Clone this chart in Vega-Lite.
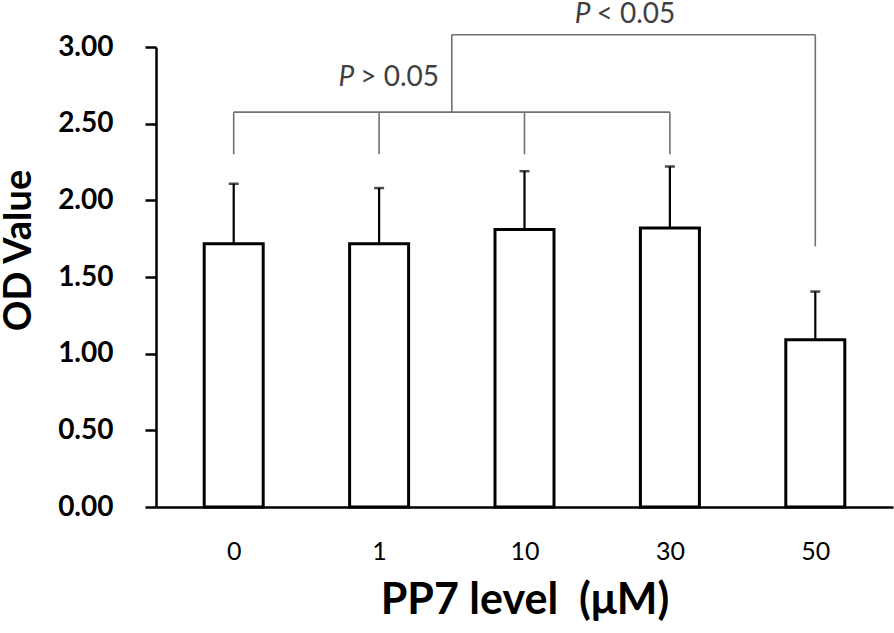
{
  "$schema": "https://vega.github.io/schema/vega-lite/v6.json",
  "width": 737,
  "height": 460,
  "padding": {"left": 0, "top": 0, "right": 4, "bottom": 2},
  "background": "white",
  "config": {"view": {"stroke": null}, "font": "Lato"},
  "datasets": {
    "bars": [
      {"pos": 0, "dose": "0", "mean": 1.717, "upper": 2.108},
      {"pos": 1, "dose": "1", "mean": 1.717, "upper": 2.08},
      {"pos": 2, "dose": "10", "mean": 1.81, "upper": 2.19},
      {"pos": 3, "dose": "30", "mean": 1.82, "upper": 2.22},
      {"pos": 4, "dose": "50", "mean": 1.09, "upper": 1.405}
    ],
    "brackets": [
      {"x": 0, "x2": 3, "y": 2.575, "y2": 2.575},
      {"x": 0, "x2": 0, "y": 2.3, "y2": 2.575},
      {"x": 1, "x2": 1, "y": 2.3, "y2": 2.575},
      {"x": 2, "x2": 2, "y": 2.3, "y2": 2.575},
      {"x": 3, "x2": 3, "y": 2.3, "y2": 2.575},
      {"x": 1.5, "x2": 1.5, "y": 2.575, "y2": 3.08},
      {"x": 1.5, "x2": 4, "y": 3.08, "y2": 3.08},
      {"x": 4, "x2": 4, "y": 1.7, "y2": 3.08}
    ],
    "labels": [
      {"x": 0.85, "y": 2.8, "p": "P", "rest": "> 0.05"},
      {"x": 2.475, "y": 3.21, "p": "P", "rest": "< 0.05"}
    ]
  },
  "layer": [
    {
      "data": {"name": "brackets"},
      "mark": {"type": "rule", "color": "#707070", "strokeWidth": 1.6, "clip": false},
      "encoding": {
        "x": {"field": "x", "type": "quantitative", "scale": {"domain": [-0.5, 4.5]}},
        "x2": {"field": "x2"},
        "y": {"field": "y", "type": "quantitative"},
        "y2": {"field": "y2"}
      }
    },
    {
      "data": {"name": "bars"},
      "mark": {"type": "rule", "color": "black", "strokeWidth": 2.2},
      "encoding": {
        "x": {"field": "pos", "type": "quantitative"},
        "y": {"field": "mean", "type": "quantitative"},
        "y2": {"field": "upper"}
      }
    },
    {
      "data": {"name": "bars"},
      "mark": {"type": "tick", "color": "black", "size": 10, "thickness": 2.5, "orient": "horizontal"},
      "encoding": {
        "x": {"field": "pos", "type": "quantitative"},
        "y": {"field": "upper", "type": "quantitative"}
      }
    },
    {
      "data": {"name": "bars"},
      "mark": {"type": "bar", "fill": "white", "stroke": "black", "strokeWidth": 3, "width": 59},
      "encoding": {
        "x": {
          "field": "pos", "type": "quantitative",
          "scale": {"domain": [-0.5, 4.5], "nice": false, "zero": false},
          "axis": {
            "title": "PP7 level\u00a0 (μM)",
            "values": [0, 1, 2, 3, 4],
            "labelExpr": "['0','1','10','30','50'][datum.value]",
            "ticks": false,
            "grid": false,
            "domainColor": "black",
            "domainWidth": 2.5,
            "labelFont": "Lato",
            "labelFontSize": 25,
            "labelColor": "black",
            "labelPadding": 32,
            "titleFont": "Lato",
            "titleFontSize": 43,
            "titleFontWeight": "bold",
            "titleColor": "black",
            "titlePadding": 15
          }
        },
        "y": {
          "field": "mean", "type": "quantitative",
          "scale": {"domain": [0, 3], "nice": false},
          "axis": {
            "title": "OD Value",
            "values": [0, 0.5, 1, 1.5, 2, 2.5, 3],
            "format": ".2f",
            "grid": false,
            "domainColor": "black",
            "domainWidth": 2.5,
            "tickColor": "black",
            "tickWidth": 2.5,
            "tickSize": 11,
            "labelFont": "Lato",
            "labelFontSize": 28,
            "labelFontWeight": "bold",
            "labelColor": "black",
            "labelPadding": 32,
            "titleFont": "Lato",
            "titleFontSize": 38,
            "titleFontWeight": "bold",
            "titleColor": "black",
            "titleX": -118,
            "titleY": 203
          }
        }
      }
    },
    {
      "data": {"name": "labels"},
      "mark": {"type": "text", "fontSize": 28, "fontStyle": "italic", "align": "right", "baseline": "middle", "color": "#404040", "clip": false, "dx": -3},
      "encoding": {
        "x": {"field": "x", "type": "quantitative"},
        "y": {"field": "y", "type": "quantitative"},
        "text": {"field": "p"}
      }
    },
    {
      "data": {"name": "labels"},
      "mark": {"type": "text", "fontSize": 28, "align": "left", "baseline": "middle", "color": "#404040", "clip": false, "dx": 3},
      "encoding": {
        "x": {"field": "x", "type": "quantitative"},
        "y": {"field": "y", "type": "quantitative"},
        "text": {"field": "rest"}
      }
    }
  ]
}
